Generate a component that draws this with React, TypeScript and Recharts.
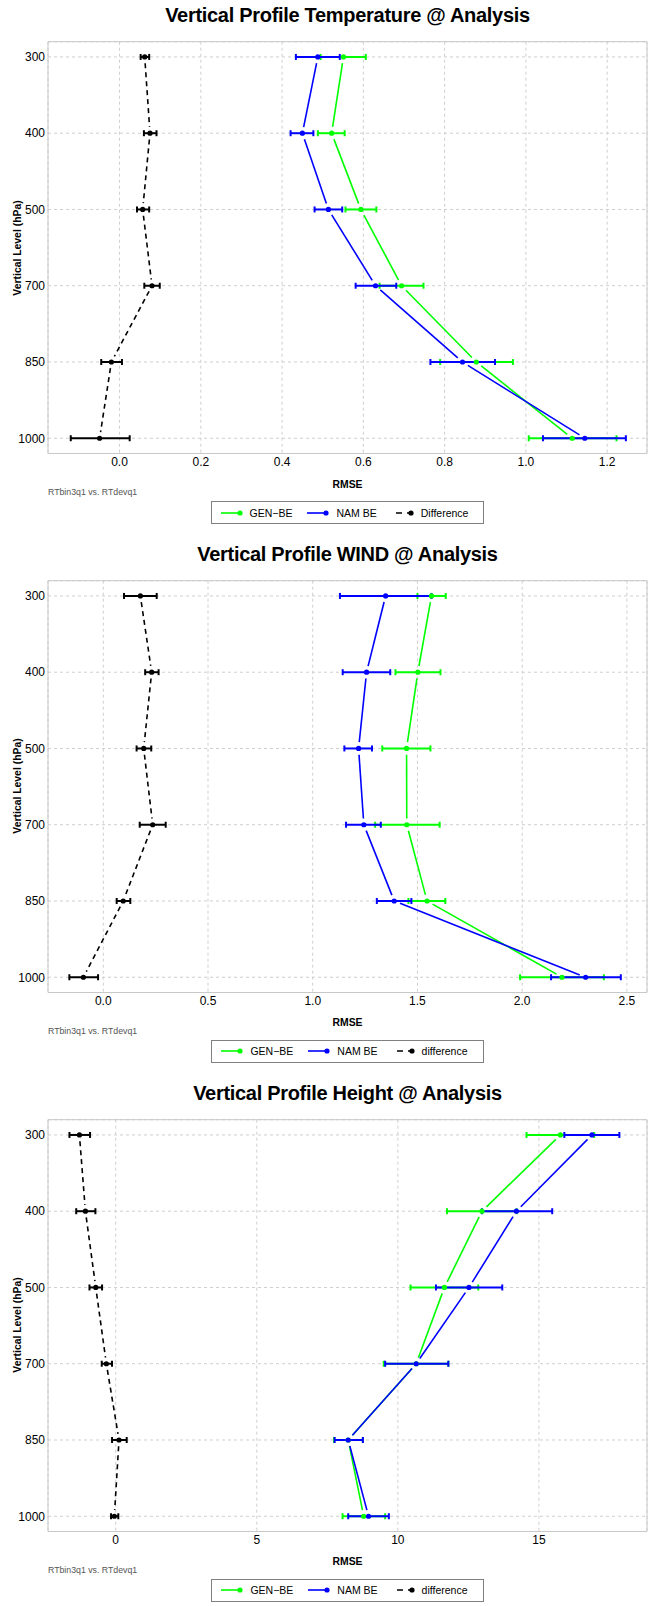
import React from "react";
import {
  ComposedChart,
  Line,
  XAxis,
  YAxis,
  CartesianGrid,
  ErrorBar,
  ReferenceArea,
} from "recharts";

const FONT = '"Liberation Sans", Arial, Helvetica, sans-serif';
const GREEN = "#00ff00";
const BLUE = "#0000ff";

const levels = ["300", "400", "500", "700", "850", "1000"];
const levelPos = [1, 2, 3, 4, 5, 6];

// temperature RMSE with CI bounds
const tempGen = [0.551, 0.522, 0.594, 0.694, 0.878, 1.114];
const tempGenLo = [0.495, 0.488, 0.556, 0.64, 0.789, 1.007];
const tempGenHi = [0.606, 0.554, 0.632, 0.748, 0.968, 1.223];
const tempNam = [0.488, 0.45, 0.514, 0.63, 0.844, 1.145];
const tempNamLo = [0.434, 0.421, 0.48, 0.581, 0.765, 1.042];
const tempNamHi = [0.542, 0.477, 0.548, 0.681, 0.924, 1.246];
const tempDiff = [0.062, 0.075, 0.057, 0.08, -0.02, -0.049];
const tempDiffLo = [0.052, 0.06, 0.043, 0.061, -0.045, -0.12];
const tempDiffHi = [0.073, 0.091, 0.073, 0.099, 0.006, 0.025];
const tempTicks = [0, 0.2, 0.4, 0.6, 0.8, 1.0, 1.2];
const tempTickLabels = ["0.0", "0.2", "0.4", "0.6", "0.8", "1.0", "1.2"];

// wind
const windGen = [1.567, 1.502, 1.448, 1.449, 1.546, 2.19];
const windGenLo = [1.5, 1.395, 1.332, 1.298, 1.457, 1.99];
const windGenHi = [1.635, 1.61, 1.562, 1.606, 1.633, 2.39];
const windNam = [1.348, 1.257, 1.219, 1.244, 1.389, 2.303];
const windNamLo = [1.13, 1.143, 1.151, 1.159, 1.306, 2.138];
const windNamHi = [1.567, 1.37, 1.283, 1.325, 1.471, 2.471];
const windDiff = [0.177, 0.231, 0.193, 0.236, 0.095, -0.095];
const windDiffLo = [0.099, 0.2, 0.159, 0.174, 0.064, -0.162];
const windDiffHi = [0.255, 0.264, 0.229, 0.298, 0.129, -0.025];
const windTicks = [0, 0.5, 1.0, 1.5, 2.0, 2.5];
const windTickLabels = ["0.0", "0.5", "1.0", "1.5", "2.0", "2.5"];

// height
const hgtGen = [15.76, 12.98, 11.65, 10.65, 8.24, 8.79];
const hgtGenLo = [14.56, 11.74, 10.45, 9.5, 7.74, 8.04];
const hgtGenHi = [16.96, 14.21, 12.85, 11.79, 8.76, 9.55];
const hgtNam = [16.88, 14.2, 12.52, 10.65, 8.24, 8.96];
const hgtNamLo = [15.9, 12.98, 11.35, 9.55, 7.76, 8.24];
const hgtNamHi = [17.85, 15.47, 13.7, 11.79, 8.76, 9.68];
const hgtDiff = [-1.286, -1.074, -0.707, -0.332, 0.117, -0.049];
const hgtDiffLo = [-1.64, -1.4, -0.93, -0.495, -0.13, -0.166];
const hgtDiffHi = [-0.91, -0.72, -0.484, -0.131, 0.389, 0.092];
const hgtTicks = [0, 5, 10, 15];
const hgtTickLabels = ["0", "5", "10", "15"];

const err = (m: number[], lo: number[], hi: number[], i: number) => [m[i] - lo[i], hi[i] - m[i]];

function buildRows(
  gen: number[], genLo: number[], genHi: number[],
  nam: number[], namLo: number[], namHi: number[],
  diff: number[], diffLo: number[], diffHi: number[]
) {
  return levels.map((_, i) => ({
    pos: levelPos[i],
    gen: gen[i],
    genErr: err(gen, genLo, genHi, i),
    nam: nam[i],
    namErr: err(nam, namLo, namHi, i),
    diff: diff[i],
    diffErr: err(diff, diffLo, diffHi, i),
  }));
}

const panels = [
  {
    top: 0,
    title: "Vertical Profile Temperature @ Analysis",
    rows: buildRows(tempGen, tempGenLo, tempGenHi, tempNam, tempNamLo, tempNamHi, tempDiff, tempDiffLo, tempDiffHi),
    domain: [-0.176, 1.298],
    ticks: tempTicks,
    tickLabels: tempTickLabels,
    diffName: "Difference",
  },
  {
    top: 538.5,
    title: "Vertical Profile WIND @ Analysis",
    rows: buildRows(windGen, windGenLo, windGenHi, windNam, windNamLo, windNamHi, windDiff, windDiffLo, windDiffHi),
    domain: [-0.264, 2.596],
    ticks: windTicks,
    tickLabels: windTickLabels,
    diffName: "difference",
  },
  {
    top: 1077.5,
    title: "Vertical Profile Height @ Analysis",
    rows: buildRows(hgtGen, hgtGenLo, hgtGenHi, hgtNam, hgtNamLo, hgtNamHi, hgtDiff, hgtDiffLo, hgtDiffHi),
    domain: [-2.4, 18.83],
    ticks: hgtTicks,
    tickLabels: hgtTickLabels,
    diffName: "difference",
  },
];

const series = [
  { key: "gen", errKey: "genErr", color: GREEN, dash: undefined },
  { key: "nam", errKey: "namErr", color: BLUE, dash: undefined },
  { key: "diff", errKey: "diffErr", color: "#000", dash: "5 4" },
];

const GAP = 6.3;

// each point draws the segment to the next point, stopping short of both ends (R's type = "b")
const gapSegment = (color: string, dash?: string) => (props: any) => {
  const { index, cx, cy, points } = props;
  const next = points ? points[index + 1] : null;
  if (!next || cx == null || next.x == null) return <g key={`seg-${index}`} />;
  const dx = next.x - cx;
  const dy = next.y - cy;
  const len = Math.hypot(dx, dy);
  if (len <= 2 * GAP) return <g key={`seg-${index}`} />;
  const ux = dx / len;
  const uy = dy / len;
  return (
    <line
      key={`seg-${index}`}
      x1={cx + ux * GAP}
      y1={cy + uy * GAP}
      x2={next.x - ux * GAP}
      y2={next.y - uy * GAP}
      stroke={color}
      strokeWidth={1.6}
      strokeDasharray={dash}
    />
  );
};

const LegendIcon = ({ color, dashed }: { color: string; dashed?: boolean }) => (
  <svg width={22} height={8} style={{ display: "block" }}>
    {dashed ? (
      <line x1={4} y1={4} x2={21} y2={4} stroke={color} strokeWidth={1.6} strokeDasharray="6 5" />
    ) : (
      <line x1={0} y1={4} x2={21} y2={4} stroke={color} strokeWidth={1.6} />
    )}
    <circle cx={19} cy={4} r={2.6} fill={color} />
  </svg>
);

const LegendItem = ({ color, label, dashed }: { color: string; label: string; dashed?: boolean }) => (
  <div style={{ display: "flex", alignItems: "center", marginRight: 15 }}>
    <LegendIcon color={color} dashed={dashed} />
    <span style={{ marginLeft: 7 }}>{label}</span>
  </div>
);

function ProfilePanel({ p }: { p: (typeof panels)[number] }) {
  const [lo, hi] = p.domain;
  return (
    <div style={{ position: "absolute", left: 0, top: p.top, width: 649, height: 538 }}>
      <div
        style={{
          position: "absolute", left: 48, width: 599, top: 3, textAlign: "center",
          fontWeight: "bold", fontSize: 20, letterSpacing: -0.3, lineHeight: "24px",
        }}
      >
        {p.title}
      </div>
      <div style={{ position: "absolute", left: 0, top: 0 }}>
        <ComposedChart
          width={649}
          height={490}
          data={p.rows}
          layout="vertical"
          margin={{ top: 41.7, right: 2, bottom: 6.5, left: 8 }}
          style={{ fontFamily: FONT }}
        >
          <CartesianGrid strokeDasharray="3 3" stroke="#cfcfcf" />
          <XAxis
            type="number"
            domain={[lo, hi]}
            ticks={p.ticks}
            allowDataOverflow
            height={30}
            axisLine={false}
            tickLine={false}
            tickSize={4}
            tickMargin={0}
            interval={0}
            tickFormatter={(v: number) => p.tickLabels[p.ticks.indexOf(v)] ?? String(v)}
            tick={{ fill: "#000", fontSize: 12, fontFamily: FONT }}
          />
          <YAxis
            type="number"
            dataKey="pos"
            domain={[0.8, 6.2]}
            ticks={levelPos}
            allowDataOverflow
            width={40}
            axisLine={false}
            tickLine={false}
            tickSize={3}
            tickMargin={0}
            interval={0}
            tickFormatter={(v: number) => levels[v - 1]}
            tick={{ fill: "#000", fontSize: 12, fontFamily: FONT }}
          />
          <ReferenceArea x1={lo} x2={hi} y1={0.8} y2={6.2} fill="none" stroke="#c8c8c8" strokeWidth={1} />
          {series.map((s) => (
            <Line
              key={s.key}
              dataKey={s.key}
              type="linear"
              stroke="none"
              dot={gapSegment(s.color, s.dash)}
              activeDot={false}
              isAnimationActive={false}
            />
          ))}
          {series.map((s) => (
            <Line
              key={`${s.key}-marks`}
              dataKey={s.key}
              type="linear"
              stroke="none"
              dot={{ r: 2.6, fill: s.color, stroke: s.color, strokeWidth: 0 }}
              activeDot={false}
              isAnimationActive={false}
            >
              <ErrorBar dataKey={s.errKey} direction="x" width={3} stroke={s.color} strokeWidth={2} />
            </Line>
          ))}
        </ComposedChart>
      </div>
      <div
        style={{
          position: "absolute", left: 18.3, top: 247.6, transform: "translate(-50%, -50%) rotate(-90deg)",
          whiteSpace: "nowrap", fontWeight: "bold", fontSize: 10.4, lineHeight: "12px",
        }}
      >
        Vertical Level (hPa)
      </div>
      <div
        style={{
          position: "absolute", left: 48, width: 599, top: 478.5, textAlign: "center",
          fontWeight: "bold", fontSize: 10.4, lineHeight: "12px",
        }}
      >
        RMSE
      </div>
      <div style={{ position: "absolute", left: 48, top: 487, fontSize: 8.75, lineHeight: "11px", color: "#555" }}>
        RTbin3q1 vs. RTdevq1
      </div>
      <div style={{ position: "absolute", left: 48, width: 599, top: 501, display: "flex", justifyContent: "center" }}>
        <div
          style={{
            display: "flex", alignItems: "center", height: 21, border: "1px solid #808080",
            padding: "0 0 0 9px", fontSize: 10.5,
          }}
        >
          <LegendItem color={GREEN} label="GEN−BE" />
          <LegendItem color={BLUE} label="NAM BE" />
          <LegendItem color="#000" label={p.diffName} dashed />
        </div>
      </div>
    </div>
  );
}

export default function App() {
  return (
    <div
      style={{
        position: "absolute", left: 0, top: 0, width: 649, height: 1606, overflow: "hidden",
        background: "#fff", fontFamily: FONT, color: "#000",
      }}
    >
      {panels.map((p) => (
        <ProfilePanel key={p.title} p={p} />
      ))}
    </div>
  );
}
